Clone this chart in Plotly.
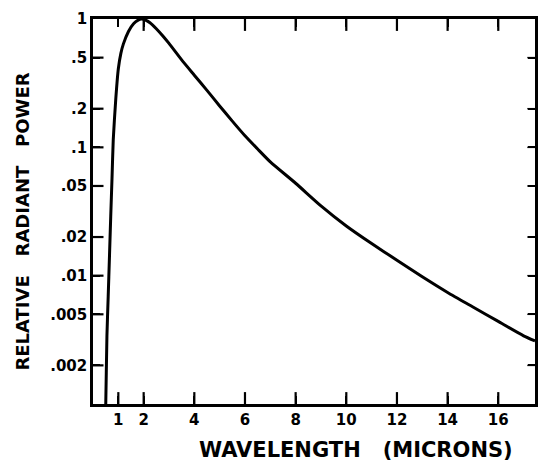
import plotly.graph_objects as go

# Wavelength (microns) and relative radiant power
wavelength = [0.48, 0.5, 0.55, 0.6, 0.65, 0.7, 0.75, 0.8, 0.9, 1.0, 1.1, 1.2, 1.4, 1.6,
              1.8, 1.9, 2.0, 2.25, 2.5, 2.75, 3.0, 3.5, 4.0, 4.5, 5.0, 5.5, 6.0, 6.5, 7.0,
              8.0, 9.0, 10.0, 11.0, 12.0, 13.0, 14.0, 15.0, 16.0, 17.0, 17.45]
power = [0.0007, 0.0009, 0.0034, 0.0069, 0.014, 0.029, 0.057, 0.115, 0.24, 0.41, 0.54,
         0.64, 0.80, 0.92, 0.985, 1.0, 0.995, 0.935, 0.84, 0.74, 0.645, 0.48, 0.365,
         0.278, 0.21, 0.16, 0.123, 0.097, 0.077, 0.0525, 0.035, 0.0244, 0.0178, 0.0132,
         0.0098, 0.0074, 0.0057, 0.0044, 0.0034, 0.0031]

x_range = [0, 17.45]
y_range_log = [-3.0, 0]

x_tickvals = [1, 2, 4, 6, 8, 10, 12, 14, 16]
x_ticktext = ["1", "2", "4", "6", "8", "10", "12", "14", "16"]
x_top_tickvals = [2, 4, 6, 8, 10, 12, 14, 16]
y_tickvals = [1, 0.5, 0.2, 0.1, 0.05, 0.02, 0.01, 0.005, 0.002]
y_ticktext = ["1", ".5", ".2", ".1", ".05", ".02", ".01", ".005", ".002"]

x_title = "WAVELENGTH\u00a0\u00a0\u00a0(MICRONS)"
y_title = "RELATIVE\u00a0\u00a0\u00a0RADIANT\u00a0\u00a0\u00a0POWER"

y_bottom = 10 ** y_range_log[0]
y_top = 10 ** y_range_log[1]

fig = go.Figure()
fig.add_trace(go.Scatter(x=wavelength, y=power, mode="lines",
                         line=dict(color="black", width=3, shape="spline", smoothing=0.6),
                         showlegend=False, hoverinfo="skip"))


def tick_trace(xs, ys, symbol, size, width):
    # line markers centred on the frame; the outer half is clipped by the plot area
    return go.Scatter(x=xs, y=ys, mode="markers", cliponaxis=True, showlegend=False,
                      hoverinfo="skip",
                      marker=dict(symbol=symbol, size=size, color="black",
                                  line=dict(color="black", width=width)))


fig.add_trace(tick_trace(x_tickvals, [y_bottom] * len(x_tickvals), "line-ns", 17, 2.2))
fig.add_trace(tick_trace(x_top_tickvals, [y_top] * len(x_top_tickvals), "line-ns", 17, 2.2))
fig.add_trace(tick_trace([x_range[0]] * (len(y_tickvals) - 1), y_tickvals[1:], "line-ew", 15, 2.2))
fig.add_trace(tick_trace([x_range[1]] * (len(y_tickvals) - 1), y_tickvals[1:], "line-ew", 11, 1.5))

tickfont = dict(family="DejaVu Sans", size=15, color="black", weight="bold")

fig.update_layout(
    width=539, height=464,
    margin=dict(l=93, r=1, t=19, b=60),
    paper_bgcolor="white", plot_bgcolor="white",
    xaxis=dict(range=x_range, tickvals=x_tickvals, ticktext=x_ticktext,
               ticks="inside", ticklen=8, tickwidth=2, tickcolor="black",
               showline=True, linewidth=2.5, linecolor="black", mirror="ticks",
               showgrid=False, zeroline=False, tickfont=tickfont),
    yaxis=dict(type="log", range=y_range_log, tickvals=y_tickvals, ticktext=y_ticktext,
               ticks="inside", ticklen=7, tickwidth=2, tickcolor="black",
               showline=True, linewidth=2.5, linecolor="black", mirror="ticks",
               showgrid=False, zeroline=False, tickfont=tickfont),
    annotations=[
        dict(text=x_title, xref="paper", yref="paper", x=0.594, y=-0.119,
             xanchor="center", yanchor="middle", showarrow=False,
             font=dict(family="DejaVu Sans", size=21, color="black", weight="bold")),
        dict(text=y_title, xref="paper", yref="paper", x=-0.159, y=0.473,
             xanchor="center", yanchor="middle", textangle=-90, showarrow=False,
             font=dict(family="DejaVu Sans", size=18, color="black", weight="bold")),
    ],
)

fig.write_html("out.html", config={"displayModeBar": False},
               post_script="document.body.style.margin='0';document.body.style.overflow='hidden';")
